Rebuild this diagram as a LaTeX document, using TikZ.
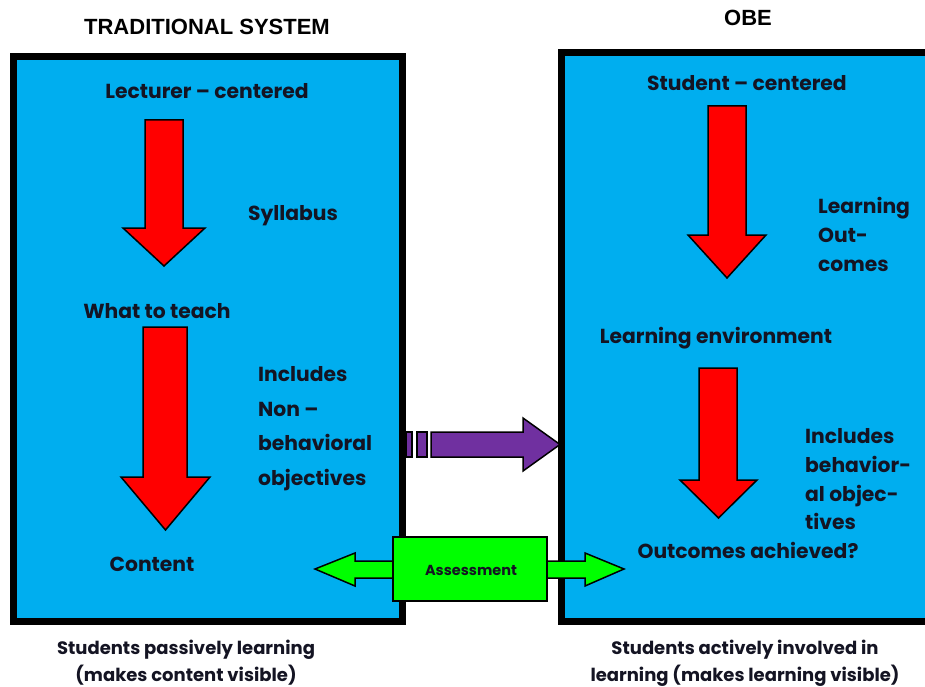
\documentclass[tikz,border=0pt]{standalone}
\usepackage{fontspec}
\setmainfont{Poppins}
\newfontfamily\titlefont{Liberation Sans}
\definecolor{boxblue}{RGB}{0,174,239}
\definecolor{arrred}{RGB}{255,0,0}
\definecolor{arrpurple}{RGB}{112,48,160}
\definecolor{arrgreen}{RGB}{0,255,0}
\definecolor{inktext}{RGB}{20,20,35}
\newcommand\myRedArrow[7]{\draw[redarrow] (#1,#3) -- (#2,#3) -- (#2,#4) -- (#6,#4) -- ({(#5+#6)/2},#7) -- (#5,#4) -- (#1,#4) -- cycle;}
\tikzset{
  bigbox/.style={draw=black, line width=7pt, fill=boxblue},
  redarrow/.style={draw=black, line width=1.5pt, fill=arrred, line join=miter},
  purplearrow/.style={draw=black, line width=1.5pt, fill=arrpurple},
  greenarrow/.style={draw=black, line width=1.5pt, fill=arrgreen},
  txt/.style={inner sep=0pt, font=\bfseries\fontsize{20.3}{24}\selectfont, text=inktext},
  subtxt/.style={inner sep=0pt, font=\bfseries\fontsize{18}{21}\selectfont, text=inktext},
  ttl/.style={inner sep=0pt, font=\titlefont\bfseries\fontsize{22}{26}\selectfont},
}
\begin{document}
\begin{tikzpicture}[x=1pt,y=-1pt]
\useasboundingbox (0,0) rectangle (925,687);
\fill[white] (0,0) rectangle (925,687);
\begin{scope}
\clip (0,0) rectangle (925,687);
\draw[bigbox] (13.5,56.5) rectangle (402,621);
\draw[bigbox] (561.5,52.5) rectangle (980,621);
\end{scope}
% titles
\node[ttl, anchor=base] (t1) at (207,35) {TRADITIONAL SYSTEM};
\node[ttl, anchor=base] (t2) at (748,26) {OBE};
% left box
\node[txt, anchor=base] (lc) at (207,99) {Lecturer – centered};
\myRedArrow{145}{183}{120}{228}{123}{205}{266}
\node[txt, anchor=base] (syl) at (293,220) {Syllabus};
\node[txt, anchor=base] (wtt) at (157,318) {What to teach};
\myRedArrow{143}{187}{327}{477}{121}{210}{530}
\node[txt, anchor=base west] (inc1) at (258,381) {Includes};
\node[txt, anchor=base west] (inc2) at (258,416) {Non –};
\node[txt, anchor=base west] (inc3) at (258,450) {behavioral};
\node[txt, anchor=base west] (inc4) at (258,485) {objectives};
\node[txt, anchor=base] (cont) at (152,571) {Content};
% right box
\node[txt, anchor=base] (sc) at (747,91) {Student – centered};
\myRedArrow{708}{746}{106}{235}{688}{766}{278}
\node[txt, anchor=base west] (lo1) at (818,213) {Learning};
\node[txt, anchor=base west] (lo2) at (818,242) {Out-};
\node[txt, anchor=base west] (lo3) at (818,271) {comes};
\node[txt, anchor=base] (le) at (716,343) {Learning environment};
\myRedArrow{699}{737}{368}{480}{680}{757}{518}
\node[txt, anchor=base west] (bo1) at (805,443) {Includes};
\node[txt, anchor=base west] (bo2) at (805,472) {behavior-};
\node[txt, anchor=base west] (bo3) at (805,501) {al objec-};
\node[txt, anchor=base west] (bo4) at (805,529) {tives};
\node[txt, anchor=base] (oa) at (748,558) {Outcomes achieved?};
% purple arrow
\draw[purplearrow] (406,432) rectangle (412,457);
\draw[purplearrow] (417,432) rectangle (427,457);
\draw[purplearrow] (431,432) -- (523,432) -- (523,418) -- (560,444.5) -- (523,471) -- (523,457) -- (431,457) -- cycle;
% assessment double arrow
\draw[greenarrow] (315,569) -- (355,553) -- (355,561) -- (585,561) -- (585,553) -- (624,569) -- (585,586) -- (585,578) -- (355,578) -- (355,586) -- cycle;
\draw[greenarrow] (393,537) rectangle (547,601);
\node[inner sep=0pt, font=\bfseries\fontsize{14.5}{17}\selectfont, anchor=base, text=inktext] (as) at (471,575) {Assessment};
% captions
\node[subtxt, anchor=base] (c1) at (186,654) {Students passively learning};
\node[subtxt, anchor=base] (c2) at (186,681) {(makes content visible)};
\node[subtxt, anchor=base] (c3) at (745,654) {Students actively involved in};
\node[subtxt, anchor=base] (c4) at (745,681) {learning (makes learning visible)};
\end{tikzpicture}
\end{document}
